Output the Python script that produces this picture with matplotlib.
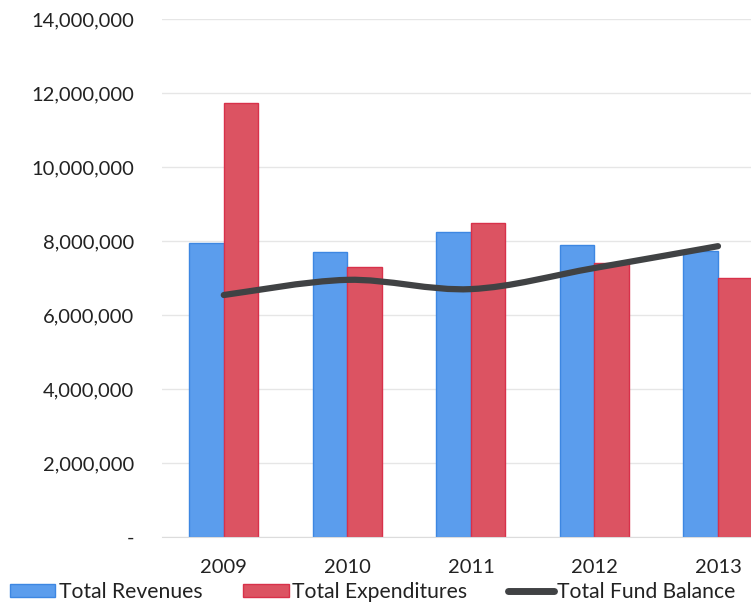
import numpy as np
import matplotlib
matplotlib.use('Agg')
import matplotlib.pyplot as plt
from matplotlib.path import Path
from matplotlib.patches import PathPatch, Patch
from matplotlib.lines import Line2D
from matplotlib.ticker import FuncFormatter

years = ['2009', '2010', '2011', '2012', '2013']
revenues = [7950000, 7700000, 8240000, 7890000, 7730000]
expenditures = [11730000, 7300000, 8490000, 7410000, 7000000]
fund_balance = [6540000, 6950000, 6700000, 7270000, 7860000]

BLUE = '#5b9ded'
BLUE_EDGE = '#3d87e2'
RED = '#dc5362'
RED_EDGE = '#d8314a'
LINE = '#404244'

plt.rcParams['font.family'] = ['Lato', 'DejaVu Sans']

fig = plt.figure(figsize=(7.51, 6.03), dpi=100)
ax = fig.add_axes([162/751, 66/603, 1 - 162/751, (537-19)/603])

x = np.arange(len(years))
w = 0.28
ax.bar(x - w/2, revenues, w, color=BLUE, edgecolor=BLUE_EDGE, linewidth=1, zorder=2)
ax.bar(x + w/2, expenditures, w, color=RED, edgecolor=RED_EDGE, linewidth=1, zorder=2)

# smoothed line through the balance points (cubic bezier segments)
pts = np.column_stack([x, fund_balance]).astype(float)
verts = [tuple(pts[0])]
codes = [Path.MOVETO]
t = 1/6
for i in range(len(pts) - 1):
    p0 = pts[i-1] if i > 0 else pts[i]
    p1, p2 = pts[i], pts[i+1]
    p3 = pts[i+2] if i + 2 < len(pts) else pts[i+1]
    c1 = p1 + (p2 - p0) * t
    c2 = p2 - (p3 - p1) * t
    verts += [tuple(c1), tuple(c2), tuple(p2)]
    codes += [Path.CURVE4] * 3
ax.add_patch(PathPatch(Path(verts, codes), facecolor='none', edgecolor=LINE,
                       lw=4.5, capstyle='round', zorder=3))

ax.set_ylim(0, 14000000)
ax.set_xlim(-0.5, 4 + 33/123.5)
ax.set_yticks(np.arange(0, 14000001, 2000000))
ax.yaxis.set_major_formatter(FuncFormatter(lambda v, p: '-' if v == 0 else f'{int(v):,}'))
ax.set_xticks(x)
ax.set_xticklabels(years)
ax.tick_params(axis='both', length=0, labelsize=14.5, colors='#222222')
ax.tick_params(axis='y', pad=20)
ax.tick_params(axis='x', pad=16)
ax.grid(axis='y', color='#e6e6e6', lw=1, zorder=0)
for s in ['top', 'right', 'left']:
    ax.spines[s].set_visible(False)
ax.spines['bottom'].set_color('#dcdcdc')

handles = [Patch(facecolor=BLUE, edgecolor=BLUE_EDGE),
           Patch(facecolor=RED, edgecolor=RED_EDGE),
           Line2D([], [], color=LINE, lw=5, solid_capstyle='round')]
fig.legend(handles, ['Total Revenues', 'Total Expenditures', 'Total Fund Balance'],
           loc='lower left', bbox_to_anchor=(10/751, 1/603), ncol=3, frameon=False,
           fontsize=15.2, handlelength=2.15, handleheight=0.5, handletextpad=0.15,
           columnspacing=1.95, borderpad=0, borderaxespad=0, labelcolor='#222222')

fig.savefig('out.png', dpi=100)
